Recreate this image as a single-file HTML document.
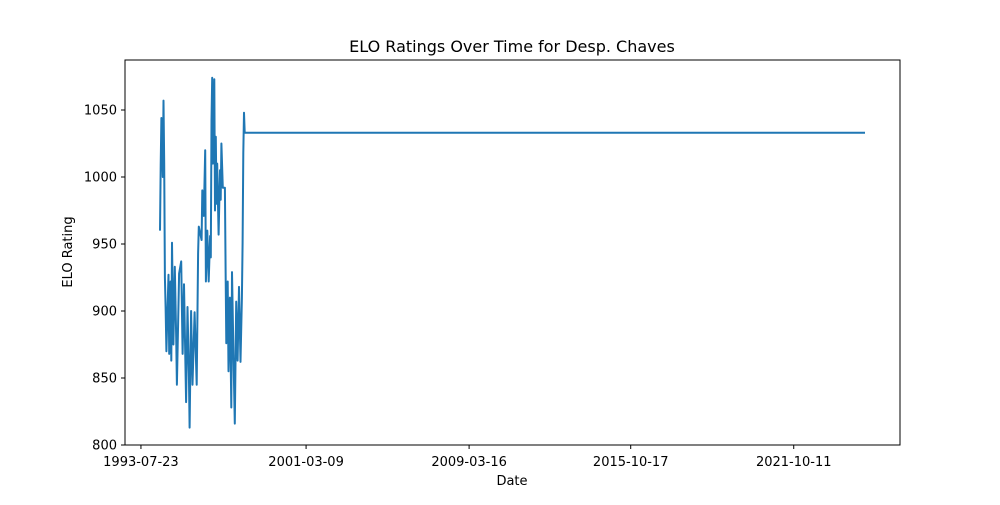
<!DOCTYPE html>
<html><head><meta charset="utf-8"><style>
body{margin:0;background:#fff;font-family:"Liberation Sans","DejaVu Sans",sans-serif}
</style></head><body>
<svg id="chart" width="1000" height="500" xmlns="http://www.w3.org/2000/svg" font-family="DejaVu Sans, Liberation Sans, sans-serif">
<rect width="1000" height="500" fill="#fff"/>
<text x="512" y="52" font-size="16" text-anchor="middle">ELO Ratings Over Time for Desp. Chaves</text>
<g id="plot"></g>
<rect x="125" y="60" width="775" height="385" fill="none" stroke="#000" stroke-width="1"/>
<text x="512" y="485" font-size="13" text-anchor="middle">Date</text>
<text transform="translate(72,252) rotate(-90)" font-size="13" text-anchor="middle">ELO Rating</text>
</svg>
<script>
const matchIndex=[0,1,2,4,5,6,7,8,9,12,13,15,16,17,19,21,23,24,27,30,32,34,37,39,41,42,44,46,49,52,54,55,59,60,62,64,65,67,69,71,72,73,74,75,77,78,79,80,81,83,85,86,87,89,92,93,94,96,97,99,101,102,104,106,108,110,112,114,116,117,118,119,120,999];
const eloValues=[960,1009,1044,1000,1057,1010,925,903,870,927,868,922,863,951,875,933,880,845,928,937,868,920,832,903,853,813,900,845,899,845,943,963,953,990,971,1020,922,960,922,956,940,1042,1074,1010,1073,975,1030,980,1010,957,1005,983,1025,992,992,931,876,922,855,910,828,929,870,816,907,863,918,862,910,951,1018,1048,1033,1033];
const xTickIndex=[-27,207,438,667,898];
const xTickLabels=["1993-07-23","2001-03-09","2009-03-16","2015-10-17","2021-10-11"];
const yTicks=[800,850,900,950,1000,1050];
const NS="http://www.w3.org/2000/svg";
const x=i=>160+(i-0)*(705/999);
const y=v=>445-(v-800)*(335/250);
const g=document.getElementById('plot');
function mk(t,a){const e=document.createElementNS(NS,t);for(const k in a)e.setAttribute(k,a[k]);g.appendChild(e);return e;}
yTicks.forEach(v=>{
  const l=mk('line',{x1:125,x2:121,y1:y(v),y2:y(v),stroke:'#000'});
  
  
  const t=mk('text',{x:117,y:y(v)+4.5,'font-size':13,'text-anchor':'end'});
  t.textContent=v;
  
  
});
xTickIndex.forEach((i,k)=>{
  const l=mk('line',{x1:x(i),x2:x(i),y1:445,y2:449,stroke:'#000'});
  
  
  const t=mk('text',{x:x(i),y:466,'font-size':13,'text-anchor':'middle'});
  t.textContent=xTickLabels[k];
  
  
});
const pts=matchIndex.map((i,k)=>x(i).toFixed(1)+','+y(eloValues[k]).toFixed(1)).join(' ');
const pl=mk('polyline',{points:pts,fill:'none',stroke:'#1f77b4','stroke-width':2,'stroke-linejoin':'round'});


</script>
</body></html>
